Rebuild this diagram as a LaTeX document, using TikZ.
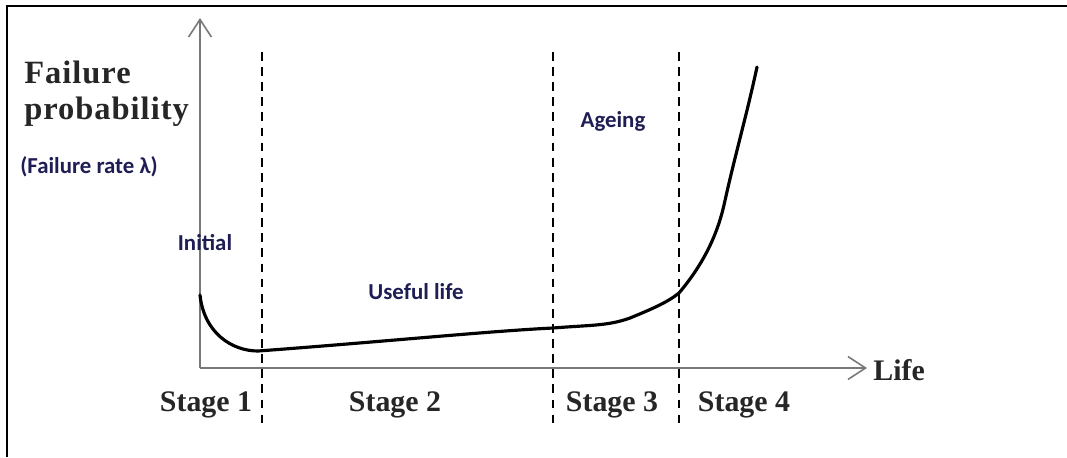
\documentclass[tikz,border=0pt]{standalone}
\usepackage{fontspec}
\setmainfont{Liberation Serif}
\newfontfamily\labelsans{Carlito}
\newfontfamily\widerserif[LetterSpace=3]{Liberation Serif}
\usetikzlibrary{arrows.meta}
\definecolor{navy}{RGB}{30,30,85}
\definecolor{axisgray}{RGB}{120,120,120}
\tikzset{
  axisline/.style={draw=axisgray, line width=0.9pt, -{Straight Barb[length=10pt,width=13pt,line width=0.9pt]}},
  stageline/.style={draw=black, line width=1.4pt, dash pattern=on 5pt off 3.6pt},
  curveline/.style={draw=black, line width=1.8pt, line cap=round},
  serifbold/.style={font=\fontsize{17}{20}\selectfont\bfseries, text=black!85, inner sep=0pt},
  titlebold/.style={font=\widerserif\fontsize{18.5}{22}\selectfont\bfseries, text=black!85, inner sep=0pt},
  sanslabel/.style={font=\labelsans\fontsize{13}{15}\selectfont\bfseries, text=navy, inner sep=0pt},
  framestroke/.style={draw=black, line width=1.3pt}
}
\begin{document}
\begin{tikzpicture}[x=0.02cm,y=-0.02cm]
  \useasboundingbox (0,0) rectangle (1067,457);
  % frame (top and left edges)
  \coordinate (fbl) at (7,457);
  \coordinate (ftl) at (7,6);
  \coordinate (ftr) at (1067,6);
  \draw[framestroke] (fbl) -- (ftl) -- (ftr);

  % axes
  \coordinate (O) at (200,368);
  \coordinate (ytip) at (200,18);
  \coordinate (xtip) at (867,368);
  \draw[axisline] (O) -- (ytip);
  \draw[axisline] (O) -- (xtip);

  % stage separators
  \foreach \n/\xx in {a/262,b/553,c/679}{
    \coordinate (\n top) at (\xx,52);
    \coordinate (\n bot) at (\xx,426);
    \draw[stageline] (\n top) -- (\n bot);
  }

  % bathtub curve
  \coordinate (c0) at (200,295);
  \coordinate (c1) at (258,351);
  \coordinate (c2) at (553,328);
  \coordinate (c3) at (630,318);
  \coordinate (c4) at (679,293);
  \coordinate (c5) at (724,205);
  \coordinate (c6) at (757,67);
  \draw[curveline] (c0) .. controls (204,333) and (232,351) .. (c1)
    .. controls (380,342) and (490,331) .. (c2)
    .. controls (590,325) and (608,326) .. (c3)
    .. controls (652,309) and (668,302) .. (c4)
    .. controls (700,268) and (716,240) .. (c5)
    .. controls (735,155) and (746,118) .. (c6);

  % texts
  \node[titlebold, anchor=base west] (fail) at (24,83) {Failure};
  \node[titlebold, anchor=base west] (prob) at (24,119) {probability};
  \node[sanslabel] (rate) at (89,167) {(Failure rate λ)};
  \node[sanslabel] (init) at (205,243) {Initial};
  \node[sanslabel] (useful) at (416,292) {Useful life};
  \node[sanslabel] (age) at (613,121) {Ageing};
  \node[serifbold, anchor=west] (life) at (873,370) {Life};
  \node[serifbold] (s1) at (206,405) {Stage 1};
  \node[serifbold] (s2) at (395,405) {Stage 2};
  \node[serifbold] (s3) at (612,405) {Stage 3};
  \node[serifbold] (s4) at (744,405) {Stage 4};
\end{tikzpicture}
\end{document}
